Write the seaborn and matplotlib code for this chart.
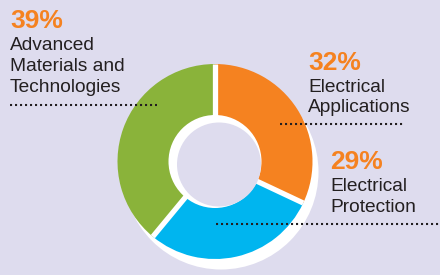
import numpy as np
import matplotlib
matplotlib.use("Agg")
import matplotlib.pyplot as plt
from matplotlib.patches import Circle
import seaborn as sns

# ---- data ----
categories = ["Electrical\nApplications", "Electrical\nProtection", "Advanced\nMaterials and\nTechnologies"]
values = [32, 29, 39]
pct_labels = ["32%", "29%", "39%"]
colors = ["#f58220", "#00b5ef", "#8ab33a"]

BG = "#dedcee"
DARK = "#231f20"
ORANGE = "#f58220"

sns.set_theme(style="white", rc={"figure.facecolor": BG, "axes.facecolor": BG})
plt.rcParams["font.family"] = ["Liberation Sans", "DejaVu Sans"]

fig = plt.figure(figsize=(4.4, 2.75), dpi=100)
ax = fig.add_axes([0, 0, 1, 1])

cx, cy = 215, 161.5
R = 97.5
r_in = 44

# white drop shadow behind ring
ax.add_patch(Circle((cx + 6, cy + 10.5), R, facecolor="white", edgecolor="none", zorder=1))

wedges, _ = ax.pie(values, colors=colors, center=(cx, cy), radius=R,
                   startangle=-90, counterclock=True,
                   wedgeprops=dict(width=R - r_in, linewidth=0), frame=False)
for w in wedges:
    w.set_zorder(2)
ax.set_xlim(0, 440)
ax.set_ylim(275, 0)
ax.set_aspect("equal")
ax.axis("off")

# white separators between slices
for w in wedges:
    t = np.deg2rad(w.theta1)
    ax.plot([cx + (r_in - 2) * np.cos(t), cx + R * np.cos(t)],
            [cy + (r_in - 2) * np.sin(t), cy + R * np.sin(t)],
            color="white", lw=3.8, solid_capstyle="butt", zorder=3)

# inner hole with inner shadow
ax.add_patch(Circle((cx, cy), 46.5, facecolor="white", edgecolor="none", zorder=4))
ax.add_patch(Circle((cx + 4, cy + 3), 42, facecolor=BG, edgecolor="none", zorder=5))

# dotted leader lines
dot = dict(color=DARK, lw=1.5, linestyle=(0, (1, 1.4)), zorder=6)
ax.plot([10, 157], [105, 105], **dot)
ax.plot([280, 403], [124.3, 124.3], **dot)
ax.plot([216, 440], [224.3, 224.3], **dot)

pct_font = dict(family=["Liberation Sans", "DejaVu Sans"],
                fontweight="bold", fontsize=19, color=ORANGE, va="baseline",
                ha="left", zorder=7)
lab_font = dict(fontsize=13.8, color=DARK, va="baseline", ha="left", zorder=7)

# label positions (left x, pct baseline, first line baseline)
pos = [(308, 70, 91.7), (330, 169.3, 190.7), (10, 28, 50)]
for (x, yp, yl), pl, cat in zip(pos, pct_labels, categories):
    ax.text(x, yp, pl, **pct_font)
    for i, line in enumerate(cat.split("\n")):
        ax.text(x, yl + i * 20.8, line, **lab_font)

fig.savefig("out.png", dpi=100, facecolor=BG)
